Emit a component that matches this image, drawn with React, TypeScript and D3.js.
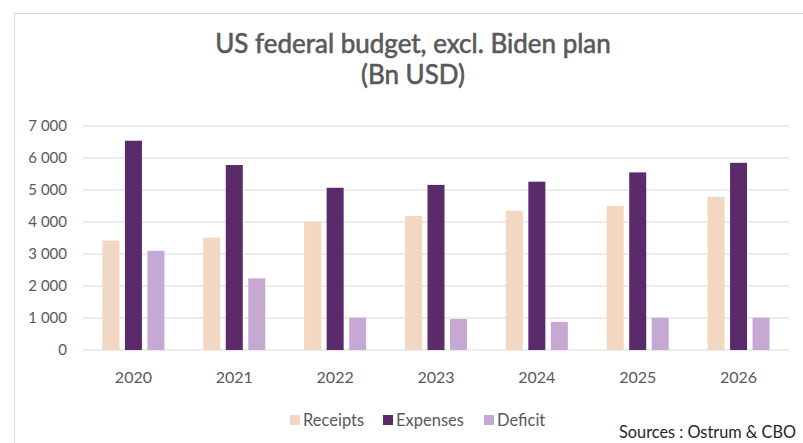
import React from "react";
import * as d3 from "d3";

const years = ["2020", "2021", "2022", "2023", "2024", "2025", "2026"];
const series = ["Receipts", "Expenses", "Deficit"];
const receipts = [3420, 3510, 4010, 4190, 4350, 4500, 4790];
const expenses = [6540, 5780, 5070, 5160, 5260, 5550, 5850];
const deficit = [3100, 2240, 1010, 970, 875, 1010, 1010];
const colors = ["#F2D7C3", "#5A2A6B", "#C6A9D3"];
const yTicks = [0, 1000, 2000, 3000, 4000, 5000, 6000, 7000];
const titleLines = ["US federal budget, excl. Biden plan", "(Bn USD)"];
const sourceText = "Sources : Ostrum & CBO";

const W = 803;
const H = 443;
const FONT = "Lato, 'Open Sans', sans-serif";

export default function App() {
  const values = [receipts, expenses, deficit];
  const x0 = d3.scaleBand<string>().domain(years).range([83, 789]).padding(0);
  const groupW = 62;
  const x1 = d3
    .scaleBand<string>()
    .domain(series)
    .range([0, groupW])
    .paddingInner(0.244)
    .paddingOuter(0);
  const y = d3.scaleLinear().domain([0, 7000]).range([350, 126]);
  const fmt = (v: number) => d3.format(",")(v).replace(/,/g, "\u00A0");

  const legendItems = [
    { x: 290, label: series[0] },
    { x: 383, label: series[1] },
    { x: 484, label: series[2] },
  ];

  return (
    <div style={{ position: "absolute", left: 0, top: 0 }}>
      <svg width={W} height={H} style={{ display: "block", background: "#fff" }}>
        <rect x={14.5} y={13.5} width={W} height={H} fill="#fff" stroke="#d9d9d9" strokeWidth={1} />
        {titleLines.map((t, i) => (
          <text
            key={t}
            x={413}
            y={53 + i * 31}
            textAnchor="middle"
            fontFamily={FONT}
            fontSize={26}
            fill="#595959"
            stroke="#595959"
            strokeWidth={0.6}
          >
            {t}
          </text>
        ))}
        {yTicks.map((t) => (
          <g key={t}>
            <line x1={83} x2={789} y1={y(t)} y2={y(t)} stroke="#d9d9d9" strokeWidth={1} />
            <text
              x={67}
              y={y(t)}
              dy="0.35em"
              textAnchor="end"
              fontFamily={FONT}
              fontSize={15}
              fill="#595959"
            >
              {fmt(t)}
            </text>
          </g>
        ))}
        {years.map((yr, i) => {
          const gx = (x0(yr) as number) + (x0.bandwidth() - groupW) / 2;
          return (
            <g key={yr}>
              {series.map((s, j) => (
                <rect
                  key={s}
                  x={gx + (x1(s) as number)}
                  y={y(values[j][i])}
                  width={x1.bandwidth()}
                  height={y(0) - y(values[j][i])}
                  fill={colors[j]}
                />
              ))}
              <text
                x={(x0(yr) as number) + x0.bandwidth() / 2}
                y={377}
                dy="0.35em"
                textAnchor="middle"
                fontFamily={FONT}
                fontSize={16}
                fill="#595959"
              >
                {yr}
              </text>
            </g>
          );
        })}
        {legendItems.map((it, j) => (
          <g key={it.label}>
            <rect x={it.x} y={415} width={10} height={10} fill={colors[j]} />
            <text
              x={it.x + 13}
              y={420}
              dy="0.35em"
              fontFamily={FONT}
              fontSize={16.5}
              fill="#595959"
            >
              {it.label}
            </text>
          </g>
        ))}
        <text
          x={796}
          y={432}
          dy="0.35em"
          textAnchor="end"
          fontFamily={FONT}
          fontSize={16.3}
          fill="#262626"
        >
          {sourceText}
        </text>
      </svg>
    </div>
  );
}
